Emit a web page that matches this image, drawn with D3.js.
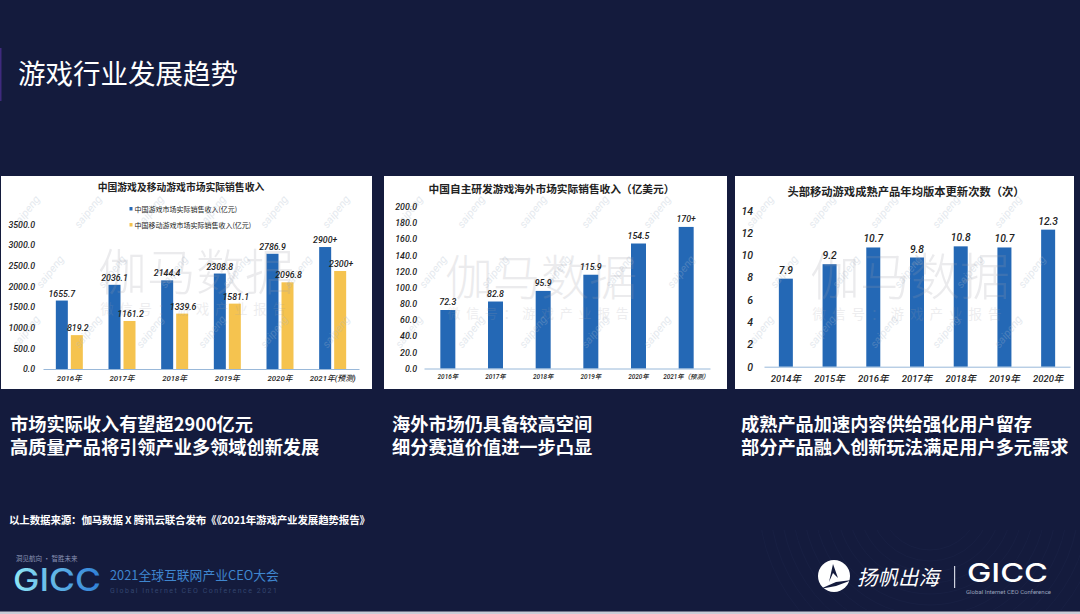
<!DOCTYPE html>
<html><head><meta charset="utf-8">
<script src="https://cdn.jsdelivr.net/npm/d3@7/dist/d3.min.js"></script>
<style>
html,body{margin:0;padding:0;background:#141b3d;overflow:hidden}
svg{display:block}
text{font-family:"Noto Sans CJK SC","Noto Sans",sans-serif}
.num{font-family:Roboto,"Noto Sans CJK SC",sans-serif;font-style:italic}
</style></head><body>
<svg id="c" width="1080" height="614"></svg>
<script>
// ---- data ----
const pageTitle = "游戏行业发展趋势";
const yearsA = ["2016年","2017年","2018年","2019年","2020年","2021年(预测)"];
const grossA = [1655.7,2036.1,2144.4,2308.8,2786.9,2950];
const grossLabelsA = ["1655.7","2036.1","2144.4","2308.8","2786.9","2900+"];
const mobileA = [819.2,1161.2,1339.6,1581.1,2096.8,2370];
const mobileLabelsA = ["819.2","1161.2","1339.6","1581.1","2096.8","2300+"];
const seriesNamesA = ["中国游戏市场实际销售收入(亿元)","中国移动游戏市场实际销售收入(亿元)"];
const titleA = "中国游戏及移动游戏市场实际销售收入";
const ticksA = [0,500,1000,1500,2000,2500,3000,3500];

const yearsB = ["2016年","2017年","2018年","2019年","2020年","2021年（预测）"];
const overseasB = [72.3,82.8,95.9,115.9,154.5,175];
const overseasLabelsB = ["72.3","82.8","95.9","115.9","154.5","170+"];
const titleB = "中国自主研发游戏海外市场实际销售收入（亿美元）";
const ticksB = [0,20,40,60,80,100,120,140,160,180,200];

const yearsC = ["2014年","2015年","2016年","2017年","2018年","2019年","2020年"];
const updatesC = [7.9,9.2,10.7,9.8,10.8,10.7,12.3];
const updatesLabelsC = ["7.9","9.2","10.7","9.8","10.8","10.7","12.3"];
const titleC = "头部移动游戏成熟产品年均版本更新次数（次）";
const ticksC = [0,2,4,6,8,10,12,14];

const captions = [
 ["市场实际收入有望超2900亿元","高质量产品将引领产业多领域创新发展"],
 ["海外市场仍具备较高空间","细分赛道价值进一步凸显"],
 ["成熟产品加速内容供给强化用户留存","部分产品融入创新玩法满足用户多元需求"]
];
const sourceNote = "以上数据来源：伽马数据 X 腾讯云联合发布《《2021年游戏产业发展趋势报告》";
const BLUE="#2468b5", YELLOW="#f5c34f", BG="#141b3d";

// ---- page ----
const svg=d3.select("#c");
const defs=svg.append("defs");
const grad=defs.append("linearGradient").attr("id","g1").attr("x1",0).attr("x2",1).attr("y1",0).attr("y2",0);
grad.append("stop").attr("offset","0").attr("stop-color","#8fe6f5");
grad.append("stop").attr("offset","1").attr("stop-color","#2f7fd6");
defs.append("clipPath").attr("id","botclip").append("rect").attr("x",760).attr("y",530).attr("width",320).attr("height",80);
svg.append("rect").attr("width",1080).attr("height",614).attr("fill",BG);
svg.append("g").attr("clip-path","url(#botclip)").selectAll("circle").data(d3.range(12)).join("circle")
  .attr("cx",930).attr("cy",500).attr("r",d=>50+d*11).attr("fill","none")
  .attr("stroke","#2a3358").attr("stroke-width",.5).attr("opacity",.4);
svg.append("rect").attr("x",0).attr("y",48).attr("width",1.5).attr("height",53).attr("fill","#3f2a7d");
svg.append("rect").attr("x",0).attr("y",611.5).attr("width",1080).attr("height",2.5).attr("fill","#c9ccd8");
svg.append("text").text(pageTitle).attr("x",18).attr("y",84).attr("fill","#fff").attr("font-size",27.5).attr("textLength",220);

// ---- chart panels ----
function panel(o){
  const g=svg.append("g");
  g.append("rect").attr("x",o.px).attr("y",o.py).attr("width",o.pw).attr("height",o.ph).attr("fill","#fff");

  const x=d3.scaleBand().domain(o.cats).range([o.x0,o.x1]);
  const y=d3.scaleLinear().domain([0,o.max]).range([o.y0,o.y1]);
  const offs=o.series.map((s,i)=>o.series.length>1?(i===0?-13.5:1.5):-o.bw/2);

  // bars
  o.series.forEach((s,i)=>{
    g.append("g").selectAll("rect").data(o.cats).join("rect")
      .attr("x",d=>x(d)+x.bandwidth()/2+offs[i]).attr("width",o.bw)
      .attr("y",(d,k)=>y(s.values[k])).attr("height",(d,k)=>y(0)-y(s.values[k]))
      .attr("fill",s.color);
  });

  // watermark layer, above the bars and beneath the text
  const wm=g.append("g");
  d3.range(o.py+38,o.py+o.ph-22,60).forEach((ry,j)=>
    d3.range(o.px+28+(j%2)*24,o.px+o.pw-22,62).forEach(cx=>{
      wm.append("text").text("saipeng").attr("class","num")
        .attr("transform",`translate(${cx},${ry}) rotate(-52)`)
        .attr("text-anchor","middle").attr("font-size",11).attr("fill","#a9b8ca").attr("opacity",.3);
    }));
  wm.append("text").text("伽马数据").attr("x",o.wmx).attr("y",o.wmy).attr("text-anchor","middle")
    .attr("font-size",o.wms).attr("fill","#9d9da8").attr("opacity",.2).attr("font-weight",300);
  wm.append("text").text("微信号：游戏产业报告").attr("x",o.wmx).attr("y",o.wmy+o.wms*.48).attr("text-anchor","middle")
    .attr("font-size",o.wms*.27).attr("fill","#9d9da8").attr("opacity",.18).attr("letter-spacing",o.wms*.12);

  // y axis
  const ya=g.append("g").attr("transform",`translate(${o.x0},0)`)
    .call(d3.axisLeft(y).tickValues(o.ticks).tickSize(0).tickPadding(o.tickPad).tickFormat(o.fmt));
  ya.select(".domain").remove();
  ya.selectAll("text").attr("class","num").attr("font-size",o.tickFs).attr("fill","#222")
    .style("font-family","Roboto").attr("font-weight",500);

  // value labels
  o.series.forEach((s,i)=>{
    g.append("g").selectAll("text").data(o.cats).join("text").attr("class","num")
      .attr("x",d=>x(d)+x.bandwidth()/2+offs[i]+o.bw/2+(s.dx||0)).attr("y",(d,k)=>y(s.values[k])-o.labGap)
      .attr("text-anchor","middle").attr("font-size",o.labFs).attr("font-weight",500).attr("fill","#222")
      .text((d,k)=>s.labels[k]);
  });

  // x axis
  const xa=g.append("g").attr("transform",`translate(0,${o.y0})`)
    .call(d3.axisBottom(x).tickSize(0).tickPadding(o.xPad));
  xa.select(".domain").attr("stroke","#7fa6cf").attr("stroke-width",.8);
  xa.selectAll("text").attr("font-size",o.xFs).attr("fill","#222")
    .attr("font-style","italic").attr("font-weight",500)
    .style("font-family",'Roboto,"Noto Sans CJK SC"');

  g.append("text").text(o.title).attr("x",o.tx).attr("y",o.ty).attr("text-anchor","middle")
    .attr("font-size",o.tFs).attr("font-weight",700).attr("fill","#222");
  return g;
}

const fmt1=d3.format(".1f");
const pA=panel({id:"A",px:1,py:176,pw:371,ph:213,x0:43,x1:359,y0:369,y1:224.3,max:3500,cats:yearsA,ticks:ticksA,fmt:fmt1,
  tickPad:8,tickFs:8.8,labFs:8.8,labGap:4,xPad:6.5,xFs:7.8,bw:12,title:titleA,tx:181,ty:191,tFs:9.8,
  wmx:196,wmy:290,wms:49,
  series:[{values:grossA,labels:grossLabelsA,color:BLUE,dx:0},{values:mobileA,labels:mobileLabelsA,color:YELLOW,dx:1}]});
seriesNamesA.forEach((n,i)=>{
  const yy=209+i*16;
  pA.append("rect").attr("x",129.5).attr("y",yy-2).attr("width",3).attr("height",3.5).attr("fill",i?YELLOW:BLUE);
  pA.append("text").text(n).attr("x",134.5).attr("y",yy+2.5).attr("font-size",7).attr("fill","#222");
});
panel({id:"B",px:384,py:176,pw:343,ph:213,x0:424,x1:710,y0:368.5,y1:206.7,max:200,cats:yearsB,ticks:ticksB,fmt:fmt1,
  tickPad:7,tickFs:8.8,labFs:8.8,labGap:5,xPad:6,xFs:6.4,bw:15,title:titleB,tx:551.5,ty:193,tFs:10.7,
  wmx:541,wmy:295,wms:48,
  series:[{values:overseasB,labels:overseasLabelsB,color:BLUE}]});
panel({id:"C",px:735,py:176,pw:339,ph:213,x0:764,x1:1070,y0:366.7,y1:210.7,max:14,cats:yearsC,ticks:ticksC,fmt:d3.format("d"),
  tickPad:11,tickFs:10.5,labFs:10.3,labGap:5,xPad:8.5,xFs:9.5,bw:14,title:titleC,tx:906,ty:196,tFs:11.3,
  wmx:910,wmy:295,wms:50,
  series:[{values:updatesC,labels:updatesLabelsC,color:BLUE}]});

// ---- captions ----
[10,392,741].forEach((cx,i)=>captions[i].forEach((t,j)=>{
  svg.append("text").text(t).attr("x",cx).attr("y",430.5+j*23.5).attr("fill","#fff")
    .attr("font-size",18.2).attr("font-weight",700);
}));
svg.append("text").text(sourceNote).attr("x",9).attr("y",524).attr("fill","#fff").attr("font-size",10.5).attr("font-weight",700).attr("textLength",361);

// ---- footer marks ----
svg.append("text").text("洞见航向 · 智胜未来").attr("x",16).attr("y",561).attr("fill","#8a93b5").attr("font-size",6.5);
svg.append("text").text("GICC").attr("x",13).attr("y",591).attr("fill","url(#g1)").attr("font-size",31).attr("font-weight",500).attr("textLength",88).attr("lengthAdjust","spacingAndGlyphs").style("font-family","Inter,Roboto");
svg.append("text").text("2021全球互联网产业CEO大会").attr("x",110).attr("y",580).attr("fill","#3f86cf").attr("font-size",12.8);
svg.append("text").text("Global Internet CEO Conference 2021").attr("x",110).attr("y",593).attr("fill","#33456f").attr("font-size",7).attr("textLength",167).style("font-family","Roboto");

svg.append("circle").attr("cx",834).attr("cy",576).attr("r",16).attr("fill","#fff");
svg.append("path").attr("d",d3.line()([[829,582],[833,564],[838,578],[833,573]])).attr("fill",BG);
svg.append("path").attr("d",d3.line()([[820,589],[836,582],[852,580],[836,586]])).attr("fill",BG);
svg.append("text").text("扬帆出海").attr("x",857).attr("y",585).attr("fill","#fff").attr("font-size",20.5).attr("font-style","italic");
svg.append("rect").attr("x",954).attr("y",566).attr("width",1.2).attr("height",22).attr("fill","#cfd3df");
svg.append("text").text("GICC").attr("x",967).attr("y",582).attr("fill","#fff").attr("font-size",26).attr("font-weight",500).attr("textLength",81).attr("lengthAdjust","spacingAndGlyphs").style("font-family","Inter,Roboto");
svg.append("text").text("Global Internet CEO Conference").attr("x",966).attr("y",594).attr("fill","#9aa2bb").attr("font-size",6).attr("textLength",85).style("font-family","Roboto");
</script>
</body></html>
